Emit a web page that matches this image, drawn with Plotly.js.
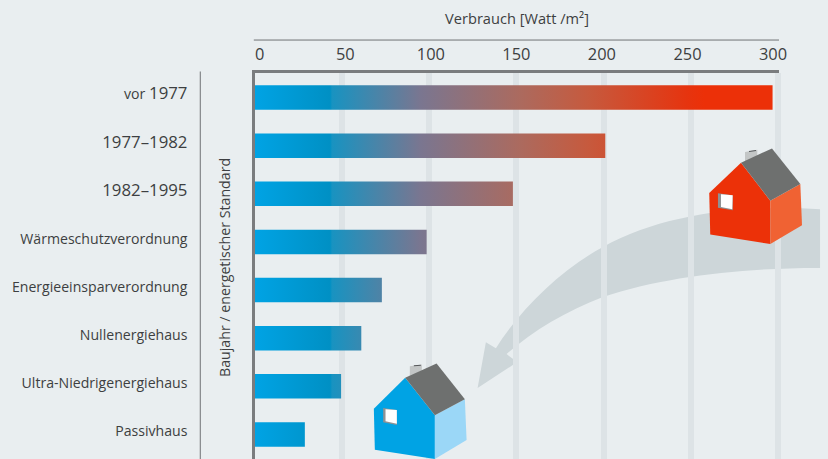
<!DOCTYPE html>
<html><head><meta charset="utf-8">
<script src="https://cdn.plot.ly/plotly-3.0.1.min.js"></script>
<style>html,body{margin:0;padding:0;background:#e9eef0;overflow:hidden}</style>
</head><body><div id="chart" style="width:828px;height:459px"></div>
<script>
const categories = ["vor 1977","1977–1982","1982–1995","Wärmeschutzverordnung","Energieeinsparverordnung","Nullenergiehaus","Ultra-Niedrigenergiehaus","Passivhaus"];
const verbrauch = [297, 201, 148, 98.5, 72.8, 61, 49.4, 28.6];
const tickValues = [0, 50, 100, 150, 200, 250, 300];
const xTitle = "Verbrauch [Watt /m²]";
const yTitle = "Baujahr / energetischer Standard";
const gradientStops = [[0,"#00a3e4"],[0.145,"#0090c4"],[0.149,"#1893c1"],[0.32,"#7a7690"],[0.514,"#ac6a5e"],[0.642,"#c65a3e"],[0.835,"#e6340f"],[0.868,"#ec3008"],[1,"#ec3008"]];

const W=828,H=459,L=255.2,R=779,T=72.5,B=459;
const px=(x,y)=>((x-L)/(R-L)).toFixed(4)+" "+((B-y)/(B-T)).toFixed(4);
const poly=(pts,fill)=>({type:"path",xref:"paper",yref:"paper",layer:"above",fillcolor:fill,line:{width:0},
  path:"M"+pts.map(p=>px(p[0],p[1])).join(" L")+" Z"});
const line=(x0,y0,x1,y1,c,w)=>({type:"line",xref:"paper",yref:"paper",layer:"below",
  x0:(x0-L)/(R-L),x1:(x1-L)/(R-L),y0:(B-y0)/(B-T),y1:(B-y1)/(B-T),line:{color:c,width:w}});

const arrow={type:"path",xref:"paper",yref:"paper",layer:"below",fillcolor:"#cdd6d9",line:{width:0},
  path:"M"+px(820,209)+" C"+px(750,204)+" "+px(665,212)+" "+px(603,246.7)+
       " C"+px(560,270)+" "+px(520,310)+" "+px(496,348)+
       " L"+px(486,342)+" L"+px(477.7,388)+" L"+px(517.3,362)+" L"+px(506.7,354)+
       " C"+px(532,331)+" "+px(566,311)+" "+px(603,296.7)+
       " C"+px(665,276)+" "+px(745,267.5)+" "+px(820,267.7)+" Z"};

const house=(f,s,r,c,ct,w,wh,colF,colS)=>[
  poly(c,"#c3c6c6"),poly(ct,"#55585a"),poly(f,colF),poly(s,colS),poly(r,"#6e706f"),poly(w,"#8f9294"),poly(wh,"#ffffff")];
const red=house(
  [[709.3,192.7],[741,162.3],[770.3,200.3],[770.3,243.7],[710.3,234.3]],
  [[770.3,200.3],[800.3,183.7],[802,225],[770.3,243.7]],
  [[741,162.3],[772,148],[800.3,183.7],[770.3,200.3]],
  [[745,151.7],[757.3,149.3],[757.3,155],[745,162]],
  [[749,150.5],[756,149.5],[756,150.5],[749,151.5]],
  [[718,193],[732.7,195],[732.7,210],[718,207.3]],
  [[721,194],[732.7,195],[732.3,209],[721,206.7]],"#ec3108","#f06233");
const blue=house(
  [[374,408.7],[405.3,377.7],[435,415.3],[435,459],[375,449.7]],
  [[435,415.3],[465,399.3],[466.7,440],[435,459]],
  [[405.3,377.7],[436.7,363.3],[465,399.3],[435,415.3]],
  [[410,366],[422,364.3],[422,370.7],[410,376]],
  [[414,365.2],[421,364.6],[421,365.6],[414,366.2]],
  [[383.3,408],[397,410],[397,425],[383.3,422.3]],
  [[385.7,409.3],[397,410],[397,423.7],[385.7,421.3]],"#00a3e4","#9bd7f7");

const font="'Open Sans', sans-serif", txt="#3d3f41";
const perUnit=87.1/50, labelUnit=1.71;
const digitSpan=s=>s.replace(/[\d–]+/g,m=>'<span style="font-size:16.8px">'+m+'</span>');
const traces=[
 {type:"bar",orientation:"h",x:verbrauch,y:categories,width:0.507,hoverinfo:"x+y",
  marker:{color:"#00a3e4",line:{width:0}},xaxis:"x",yaxis:"y",showlegend:false},
 {type:"scatter",mode:"markers",x:tickValues,y:tickValues.map(()=>categories[0]),marker:{opacity:0,size:1},
  xaxis:"x2",yaxis:"y",hoverinfo:"skip",showlegend:false}
];
const layout={
 width:W,height:H,paper_bgcolor:"#e9eef0",plot_bgcolor:"#e9eef0",showlegend:false,
 margin:{l:L,r:W-R,t:T,b:0,pad:0},
 font:{family:font,size:14,color:txt},
 xaxis:{range:[0,(R-L)/perUnit],side:"top",tickvals:tickValues,showticklabels:false,ticks:"",
   showgrid:true,gridcolor:"#dde3e6",gridwidth:5.5,zeroline:false,showline:true,linecolor:"#7a7c7e",linewidth:2.5,layer:"below traces"},
 xaxis2:{overlaying:"x",side:"top",range:[(L-260)/labelUnit,(R-260)/labelUnit],tickvals:tickValues,ticktext:tickValues.map(String),
   tickfont:{family:font,size:16.4,color:txt},ticks:"outside",ticklen:5,tickcolor:"rgba(0,0,0,0)",showgrid:false,zeroline:false,showline:false,
   title:{text:xTitle,font:{family:font,size:14.6,color:txt},standoff:14}},
 yaxis:{type:"category",categoryorder:"array",categoryarray:categories,range:[7.51,-0.51],showgrid:false,zeroline:false,
   tickmode:"array",tickvals:categories,ticktext:categories.map(digitSpan),
   tickfont:{family:font,size:14.1,color:txt},ticks:"outside",ticklen:62,tickcolor:"rgba(0,0,0,0)",ticklabelshift:3,
   showline:true,linecolor:"#7a7c7e",linewidth:2.5},
 shapes:[arrow,line(254,39.5,779,39.5,"#6f7274",1),line(200.5,71,200.5,459,"#6f7274",1)].concat(red,blue),
 annotations:[{xref:"paper",yref:"paper",x:(224-L)/(R-L),y:(B-267)/(B-T),text:yTitle,textangle:-90,showarrow:false,
   xanchor:"center",yanchor:"middle",font:{family:font,size:14.2,color:txt}}]
};
Plotly.newPlot("chart",traces,layout,{displayModeBar:false}).then(gd=>{
  const xa=gd._fullLayout.xaxis, svg=gd.querySelector(".main-svg"), NS="http://www.w3.org/2000/svg";
  const g=document.createElementNS(NS,"linearGradient");
  g.setAttribute("id","barGrad");g.setAttribute("gradientUnits","userSpaceOnUse");
  g.setAttribute("x1",xa.l2p(0));g.setAttribute("x2",xa.l2p(verbrauch[0]));g.setAttribute("y1",0);g.setAttribute("y2",0);
  gradientStops.forEach(s=>{const st=document.createElementNS(NS,"stop");st.setAttribute("offset",s[0]);st.setAttribute("stop-color",s[1]);g.appendChild(st);});
  svg.querySelector("defs").appendChild(g);
  gd.querySelectorAll(".bars .point path").forEach(p=>{p.style.fill="url(#barGrad)";});
});
</script></body></html>
